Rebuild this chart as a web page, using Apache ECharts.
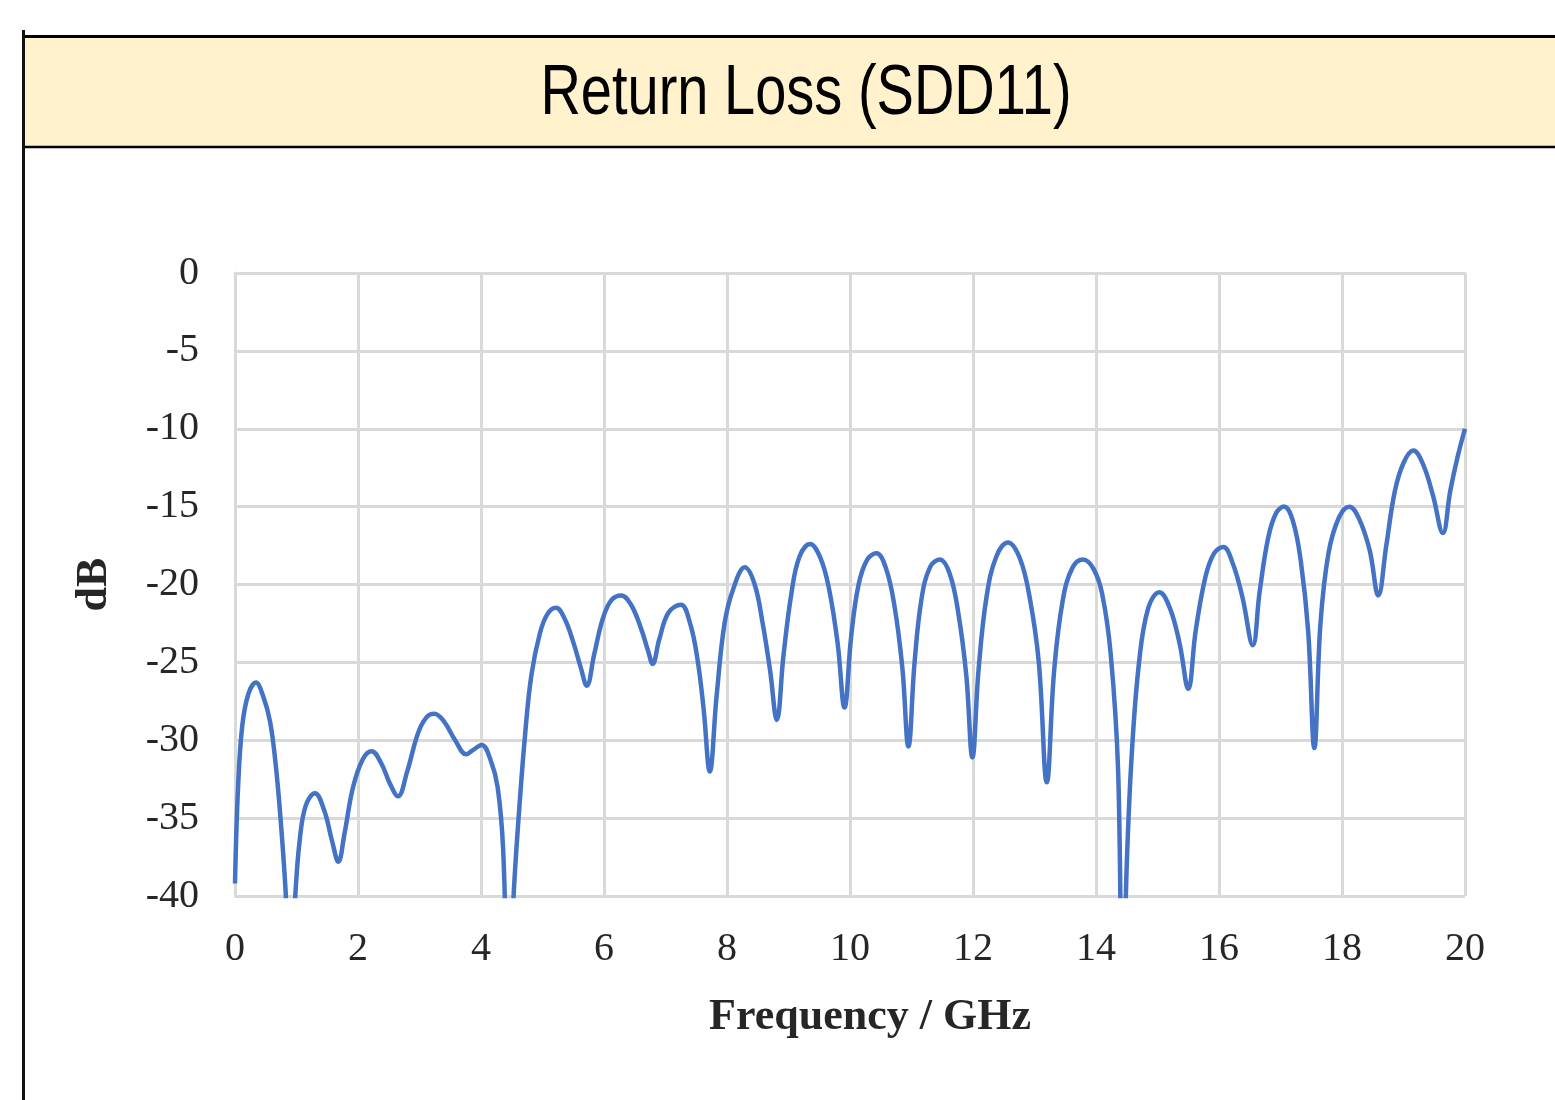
<!DOCTYPE html>
<html>
<head>
<meta charset="utf-8">
<script src="https://cdn.jsdelivr.net/npm/echarts@6/dist/echarts.min.js"></script>
<style>
html,body{margin:0;padding:0;background:#fff;}
#chart{width:1555px;height:1100px;}
</style>
</head>
<body>
<div id="chart"></div>
<script>
const chartTitle = 'Return Loss (SDD11)';
const xAxisName = 'Frequency / GHz';
const yAxisName = 'dB';
const xTicks = [0, 2, 4, 6, 8, 10, 12, 14, 16, 18, 20];
const yTicks = [-40, -35, -30, -25, -20, -15, -10, -5, 0];

const freqGHz = [
  0.00, 0.05, 0.12, 0.22, 0.34, 0.46, 0.57, 0.66, 0.74, 0.82, 0.90, 0.98, 1.05, 1.15, 1.30, 1.45, 1.58, 1.68, 1.78, 1.92,
  2.08, 2.22, 2.38, 2.52, 2.65, 2.80, 2.98, 3.12, 3.24, 3.40, 3.58, 3.76, 3.88, 4.01, 4.15, 4.27, 4.36, 4.45, 4.53, 4.62,
  4.72, 4.82, 4.96, 5.08, 5.22, 5.36, 5.50, 5.62, 5.72, 5.84, 5.98, 6.12, 6.28, 6.44, 6.60, 6.72, 6.79, 6.90, 7.05, 7.25,
  7.40, 7.52, 7.62, 7.72, 7.83, 7.96, 8.10, 8.29, 8.45, 8.58, 8.70, 8.81, 8.92, 9.05, 9.18, 9.35, 9.52, 9.66, 9.80, 9.91,
  10.02, 10.14, 10.28, 10.43, 10.58, 10.72, 10.85, 10.95, 11.05, 11.16, 11.30, 11.46, 11.62, 11.76, 11.89, 11.99, 12.09, 12.22, 12.38, 12.57,
  12.76, 12.92, 13.07, 13.20, 13.32, 13.46, 13.62, 13.79, 13.96, 14.10, 14.24, 14.36, 14.43, 14.50, 14.58, 14.70, 14.85, 15.03, 15.20, 15.36,
  15.50, 15.62, 15.78, 15.92, 16.07, 16.22, 16.38, 16.55, 16.66, 16.80, 16.93, 17.06, 17.20, 17.33, 17.45, 17.55, 17.65, 17.78, 17.95, 18.12,
  18.28, 18.45, 18.59, 18.72, 18.86, 19.00, 19.16, 19.32, 19.48, 19.64, 19.76, 19.88, 20.00
];
const sdd11dB = [
  -39.2, -33.0, -29.0, -27.0, -26.3, -27.2, -28.8, -31.5, -35.0, -39.5, -46.0, -40.0, -36.5, -34.2, -33.4, -34.5, -36.5, -37.8, -36.0, -33.0,
  -31.2, -30.7, -31.5, -32.8, -33.6, -32.0, -29.5, -28.5, -28.3, -28.8, -30.0, -30.9, -30.6, -30.3, -31.2, -33.0, -37.0, -48.0, -40.0, -34.5,
  -29.5, -25.8, -23.1, -21.9, -21.5, -22.2, -23.7, -25.3, -26.5, -24.5, -22.2, -21.0, -20.7, -21.3, -22.8, -24.3, -25.1, -23.5, -21.8, -21.3,
  -22.5, -24.8, -28.0, -32.0, -27.2, -22.5, -20.3, -18.9, -20.0, -22.5, -25.5, -28.7, -24.5, -20.5, -18.2, -17.4, -18.3, -20.3, -23.8, -27.9,
  -23.3, -20.0, -18.4, -18.0, -18.9, -21.3, -25.3, -30.4, -25.0, -21.0, -18.9, -18.4, -19.3, -21.8, -25.8, -31.1, -25.5, -20.8, -18.2, -17.3,
  -18.3, -20.8, -25.0, -32.7, -25.5, -21.0, -18.9, -18.4, -19.0, -20.6, -24.5, -32.0, -48.0, -38.0, -31.0, -25.0, -21.5, -20.5, -21.5, -23.8,
  -26.7, -23.0, -19.5, -18.0, -17.6, -18.6, -20.8, -23.9, -20.5, -17.0, -15.4, -15.0, -15.9, -18.5, -23.0, -30.5, -22.5, -18.0, -15.7, -15.0,
  -15.8, -17.8, -20.7, -17.5, -14.0, -12.2, -11.4, -12.3, -14.3, -16.7, -14.0, -11.8, -10.0
];

const seriesData = freqGHz.map((f, i) => [f, sdd11dB[i]]);

const chart = echarts.init(document.getElementById('chart'), null, {renderer: 'canvas'});
const gridColor = '#D9D9D9';
const labelColor = '#262626';

chart.setOption({
  backgroundColor: '#ffffff',
  animation: false,
  grid: {left: 235, right: 90, top: 273, bottom: 204, containLabel: false},
  xAxis: {
    type: 'value',
    min: xTicks[0], max: xTicks[xTicks.length - 1], interval: 2,
    name: xAxisName,
    nameLocation: 'middle',
    nameGap: 100,
    nameTextStyle: {fontFamily: 'Liberation Serif', fontWeight: 'bold', fontSize: 44, color: labelColor, padding: [0, 0, 0, 40]},
    axisLine: {show: true, lineStyle: {color: gridColor, width: 3}},
    axisTick: {show: false},
    axisLabel: {fontFamily: 'Liberation Serif', fontSize: 40, color: labelColor, margin: 33},
    splitLine: {show: true, lineStyle: {color: gridColor, width: 3}}
  },
  yAxis: {
    type: 'value',
    min: yTicks[0], max: yTicks[yTicks.length - 1], interval: 5,
    name: yAxisName,
    nameLocation: 'middle',
    nameGap: 118,
    nameRotate: 90,
    nameTextStyle: {fontFamily: 'Liberation Serif', fontWeight: 'bold', fontSize: 44, color: labelColor},
    axisLine: {show: true, lineStyle: {color: gridColor, width: 3}},
    axisTick: {show: false},
    axisLabel: {fontFamily: 'Liberation Serif', fontSize: 40, color: labelColor, margin: 36},
    splitLine: {show: true, lineStyle: {color: gridColor, width: 3}}
  },
  series: [{
    type: 'line',
    data: seriesData,
    smooth: 0.4,
    showSymbol: false,
    clip: true,
    lineStyle: {color: '#4472C4', width: 4.5},
    z: 5
  }],
  graphic: [
    {type: 'rect', shape: {x: 22, y: 36, width: 1540, height: 111}, style: {fill: '#FFF2CC'}, z: 0},
    {type: 'line', shape: {x1: 22, y1: 36.5, x2: 1555, y2: 36.5}, style: {stroke: '#000', lineWidth: 3}, z: 1},
    {type: 'line', shape: {x1: 22, y1: 147, x2: 1555, y2: 147}, style: {stroke: '#000', lineWidth: 2.5}, z: 1},
    {type: 'line', shape: {x1: 23.5, y1: 30, x2: 23.5, y2: 1100}, style: {stroke: '#111', lineWidth: 3}, z: 1},
    {type: 'text', x: 806, y: 95, scaleX: 0.8, scaleY: 1,
      style: {text: chartTitle, font: '70px "Liberation Sans", Arial, sans-serif', fill: '#000', textAlign: 'center', textVerticalAlign: 'middle'}, z: 2}
  ]
});
</script>
</body>
</html>
